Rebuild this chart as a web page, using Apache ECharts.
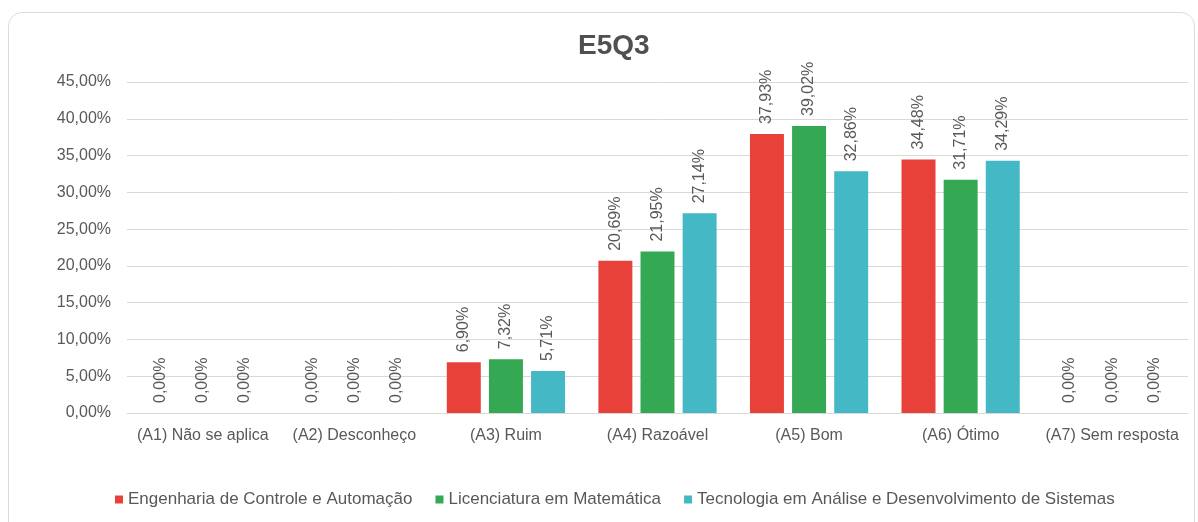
<!DOCTYPE html>
<html><head><meta charset="utf-8">
<script src="https://cdn.jsdelivr.net/npm/echarts@6/dist/echarts.min.js"></script>
<style>
html,body{margin:0;padding:0;background:#fff;}
#card{position:absolute;left:8px;top:12px;width:1187px;height:530px;border:1px solid #dcdcdc;border-radius:14px;box-sizing:border-box;}
#chart{position:absolute;left:0;top:0;width:1198px;height:522px;}
</style></head>
<body>
<div id="card"></div>
<div id="chart"></div>
<script>
const title = 'E5Q3';
const categories = ['(A1) Não se aplica','(A2) Desconheço','(A3) Ruim','(A4) Razoável','(A5) Bom','(A6) Ótimo','(A7) Sem resposta'];
const seriesNames = ['Engenharia de Controle e Automação','Licenciatura em Matemática','Tecnologia em Análise e Desenvolvimento de Sistemas'];
const engenharia = [0, 0, 6.90, 20.69, 37.93, 34.48, 0];
const licenciatura = [0, 0, 7.32, 21.95, 39.02, 31.71, 0];
const tecnologia = [0, 0, 5.71, 27.14, 32.86, 34.29, 0];
const colors = ['#E8413A', '#34A853', '#45B8C6'];

const fmt = v => v.toFixed(2).replace('.', ',') + '%';
const font = 'Liberation Sans, Arial, sans-serif';
const chart = echarts.init(document.getElementById('chart'));
const mk = (name, data, color) => ({
  name, type: 'bar', data,
  itemStyle: { color },
  barGap: '24%', barCategoryGap: '22%',
  label: {
    show: true, position: 'top', rotate: 90, align: 'left', verticalAlign: 'middle',
    distance: 10, color: '#595959', fontSize: 16, fontFamily: font,
    formatter: p => fmt(p.value)
  }
});
chart.setOption({
  animation: false,
  textStyle: { fontFamily: font },
  title: { text: title, left: 573, top: 27, textStyle: { fontSize: 28, fontWeight: 'bold', color: '#505050', fontFamily: font } },
  grid: { left: 127, right: 10, top: 82, bottom: 109, containLabel: false },
  legend: {
    bottom: 9, left: 110, icon: 'rect', itemWidth: 8, itemHeight: 8, itemGap: 23,
    textStyle: { color: '#595959', fontSize: 17, fontFamily: font }
  },
  xAxis: {
    type: 'category', data: categories,
    axisLine: { lineStyle: { color: '#d9d9d9' } }, axisTick: { show: false },
    axisLabel: { color: '#595959', fontSize: 16, fontFamily: font, margin: 15, interval: 0 }
  },
  yAxis: {
    type: 'value', min: 0, max: 45, interval: 5,
    axisLabel: { color: '#595959', fontSize: 16, fontFamily: font, margin: 16, formatter: v => fmt(v) },
    splitLine: { lineStyle: { color: '#d9d9d9' } },
    axisLine: { show: false }, axisTick: { show: false }
  },
  series: [mk(seriesNames[0], engenharia, colors[0]), mk(seriesNames[1], licenciatura, colors[1]), mk(seriesNames[2], tecnologia, colors[2])]
});
</script>
</body></html>
